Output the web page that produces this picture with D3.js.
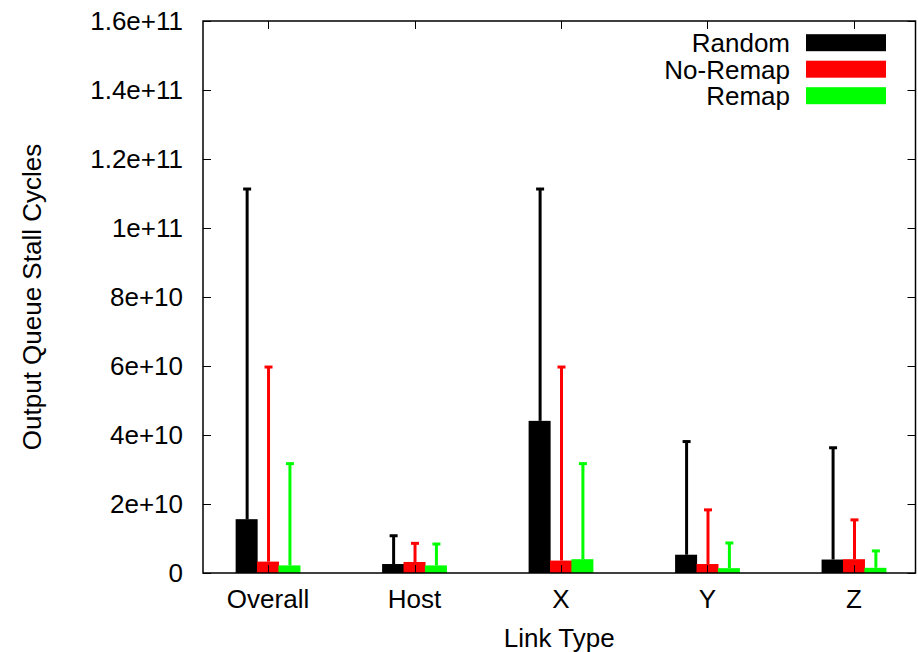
<!DOCTYPE html>
<html>
<head>
<meta charset="utf-8">
<script src="https://cdn.jsdelivr.net/npm/d3@7"></script>
<style>
  body { margin: 0; background: #fff; }
  text { font-family: "Liberation Sans", Arial, Helvetica, sans-serif; fill: #000; }
</style>
</head>
<body>
<div id="chart"></div>
<script>
// link types along the x axis
var categories = ["Overall", "Host", "X", "Y", "Z"];
var seriesNames = ["Random", "No-Remap", "Remap"];
var seriesColors = ["#000000", "#ff0000", "#00ff00"];

// bar heights (mean stall cycles)
var randomVals  = [15.6e9, 2.6e9, 44.1e9, 5.3e9, 3.9e9];
var noRemapVals = [3.3e9, 3.2e9, 3.6e9, 2.6e9, 4.0e9];
var remapVals   = [2.2e9, 2.2e9, 4.0e9, 1.4e9, 1.5e9];

// top of the error bars
var randomMax  = [111.3e9, 10.8e9, 111.3e9, 38.1e9, 36.3e9];
var noRemapMax = [59.7e9, 8.6e9, 59.7e9, 18.3e9, 15.4e9];
var remapMax   = [31.7e9, 8.4e9, 31.7e9, 8.7e9, 6.4e9];

var yTicks = [0, 2e10, 4e10, 6e10, 8e10, 1e11, 1.2e11, 1.4e11, 1.6e11];
var yTickLabels = ["0", "2e+10", "4e+10", "6e+10", "8e+10", "1e+11", "1.2e+11", "1.4e+11", "1.6e+11"];

var W = 918, H = 652;
var pLeft = 203, pRight = 915.5, pTop = 21, pBottom = 573;
var fs = 26;

var svg = d3.select("#chart").append("svg").attr("width", W).attr("height", H);

var x = d3.scaleLinear().domain([-0.444, 4.42]).range([pLeft, pRight]);
var y = d3.scaleLinear().domain([0, 1.6e11]).range([pBottom, pTop]);

var barStep = 21.4, barW = 22;

var series = seriesNames.map(function(name, i) {
  return {
    name: name,
    color: seriesColors[i],
    vals: [randomVals, noRemapVals, remapVals][i],
    max: [randomMax, noRemapMax, remapMax][i]
  };
});

// bars and error bars, one series after another
series.forEach(function(s, si) {
  var g = svg.append("g");
  var off = (si - 1) * barStep;
  g.selectAll("rect")
    .data(categories)
    .enter().append("rect")
      .attr("x", function(d, i) { return x(i) + off - barW / 2; })
      .attr("y", function(d, i) { return y(s.vals[i]); })
      .attr("width", barW)
      .attr("height", function(d, i) { return y(0) - y(s.vals[i]); })
      .attr("fill", s.color);

  g.selectAll("line.err")
    .data(categories)
    .enter().append("line")
      .attr("class", "err")
      .attr("x1", function(d, i) { return x(i) + off + 0.5; })
      .attr("x2", function(d, i) { return x(i) + off + 0.5; })
      .attr("y1", function(d, i) { return y(s.vals[i]); })
      .attr("y2", function(d, i) { return y(s.max[i]); })
      .attr("stroke", s.color)
      .attr("stroke-width", 3);

  g.selectAll("line.cap")
    .data(categories)
    .enter().append("line")
      .attr("class", "cap")
      .attr("x1", function(d, i) { return x(i) + off + 0.5 - 4; })
      .attr("x2", function(d, i) { return x(i) + off + 0.5 + 4; })
      .attr("y1", function(d, i) { return y(s.max[i]); })
      .attr("y2", function(d, i) { return y(s.max[i]); })
      .attr("stroke", s.color)
      .attr("stroke-width", 3);
});

// ticks (mirrored on all four sides, pointing inward)
var tl = 8;
var ticks = svg.append("g").attr("stroke", "#000").attr("stroke-width", 1);
yTicks.forEach(function(t) {
  var yy = Math.round(y(t)) + 0.5;
  ticks.append("line").attr("x1", pLeft).attr("x2", pLeft + tl).attr("y1", yy).attr("y2", yy);
  ticks.append("line").attr("x1", pRight - tl).attr("x2", pRight).attr("y1", yy).attr("y2", yy);
});
categories.forEach(function(c, i) {
  var xx = Math.round(x(i)) + 0.5;
  ticks.append("line").attr("x1", xx).attr("x2", xx).attr("y1", pTop).attr("y2", pTop + tl);
  ticks.append("line").attr("x1", xx).attr("x2", xx).attr("y1", pBottom - tl).attr("y2", pBottom);
});

// frame
svg.append("rect")
  .attr("x", pLeft).attr("y", pTop)
  .attr("width", pRight - pLeft).attr("height", pBottom - pTop)
  .attr("fill", "none").attr("stroke", "#000").attr("stroke-width", 1.5);

// tick labels
svg.append("g").selectAll("text")
  .data(yTicks)
  .enter().append("text")
    .attr("x", 183)
    .attr("y", function(d) { return y(d); })
    .attr("dy", "0.36em")
    .attr("text-anchor", "end")
    .attr("font-size", fs)
    .text(function(d, i) { return yTickLabels[i]; });

svg.append("g").selectAll("text")
  .data(categories)
  .enter().append("text")
    .attr("x", function(d, i) { return x(i); })
    .attr("y", 608)
    .attr("text-anchor", "middle")
    .attr("font-size", fs)
    .text(function(d) { return d; });

// axis titles
svg.append("text")
  .attr("x", (pLeft + pRight) / 2).attr("y", 647)
  .attr("text-anchor", "middle").attr("font-size", fs)
  .text("Link Type");

svg.append("text")
  .attr("transform", "translate(41," + (pTop + pBottom) / 2 + ") rotate(-90)")
  .attr("text-anchor", "middle").attr("font-size", fs)
  .text("Output Queue Stall Cycles");

// legend
var legend = svg.append("g");
series.forEach(function(s, i) {
  var cy = 42.7 + i * 26.5;
  legend.append("text")
    .attr("x", 790).attr("y", cy).attr("dy", "0.36em")
    .attr("text-anchor", "end").attr("font-size", fs)
    .text(s.name);
  legend.append("rect")
    .attr("x", 806).attr("y", cy - 8.5)
    .attr("width", 80).attr("height", 17)
    .attr("fill", s.color);
});
</script>
</body>
</html>
